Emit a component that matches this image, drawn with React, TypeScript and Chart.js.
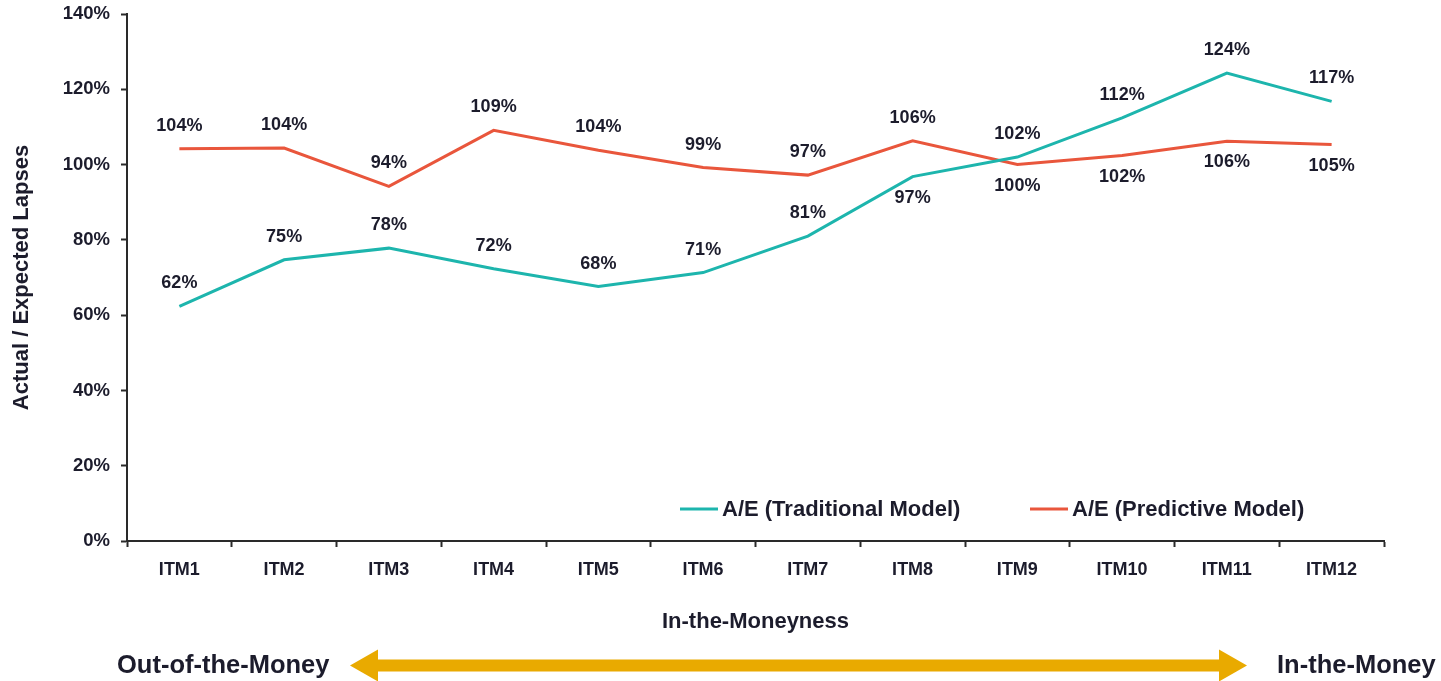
import React, { useEffect, useRef } from 'react';
import { Chart, registerables } from 'chart.js';

Chart.register(...registerables);

const categories = ['ITM1', 'ITM2', 'ITM3', 'ITM4', 'ITM5', 'ITM6', 'ITM7', 'ITM8', 'ITM9', 'ITM10', 'ITM11', 'ITM12'];
const traditional = [62.3, 74.7, 77.8, 72.3, 67.6, 71.3, 81.0, 96.8, 102.0, 112.4, 124.3, 116.8];
const predictive = [104.2, 104.4, 94.2, 109.1, 103.8, 99.2, 97.2, 106.3, 100.0, 102.4, 106.2, 105.3];
const traditionalLabelSide = ['above', 'above', 'above', 'above', 'above', 'above', 'above', 'below', 'above', 'above', 'above', 'above'];
const predictiveLabelSide = ['above', 'above', 'above', 'above', 'above', 'above', 'above', 'above', 'below', 'below', 'below', 'below'];
const seriesNames = ['A/E (Traditional Model)', 'A/E (Predictive Model)'];
const yMin = 0;
const yMax = 140;
const yStep = 20;
const xTitle = 'In-the-Moneyness';
const yTitle = 'Actual / Expected Lapses';
const leftCaption = 'Out-of-the-Money';
const rightCaption = 'In-the-Money';

const FONT = '"Liberation Sans", Arial, sans-serif';
const TEXT = '#1c1c2c';
const TEAL = '#1db5ad';
const RED = '#e9563c';
const GOLD = '#e9aa00';
const AXIS = '#2a2a2a';

const pointLabelPlugin = {
  id: 'pointLabels',
  afterDatasetsDraw(chart: any) {
    const ctx = chart.ctx;
    ctx.save();
    ctx.font = `bold 18px ${FONT}`;
    ctx.fillStyle = TEXT;
    ctx.textAlign = 'center';
    ctx.textBaseline = 'middle';
    chart.data.datasets.forEach((ds: any, di: number) => {
      const meta = chart.getDatasetMeta(di);
      meta.data.forEach((pt: any, i: number) => {
        const v = ds.data[i];
        const side = ds.labelSide[i];
        const y = side === 'above' ? pt.y - 23 : pt.y + 21;
        ctx.fillText(Math.round(v) + '%', pt.x, y);
      });
    });
    ctx.restore();
  },
};

const legendPlugin = {
  id: 'insideLegend',
  afterDraw(chart: any) {
    const ctx = chart.ctx;
    const area = chart.chartArea;
    const starts = [area.left + 553, area.left + 903];
    const y = area.bottom - 32;
    ctx.save();
    ctx.font = `bold 22px ${FONT}`;
    ctx.textAlign = 'left';
    ctx.textBaseline = 'middle';
    chart.data.datasets.forEach((ds: any, i: number) => {
      const x = starts[i];
      ctx.strokeStyle = ds.borderColor;
      ctx.lineWidth = 3;
      ctx.beginPath();
      ctx.moveTo(x, y);
      ctx.lineTo(x + 38, y);
      ctx.stroke();
      ctx.fillStyle = TEXT;
      ctx.fillText(ds.label, x + 42, y + 1);
    });
    ctx.restore();
  },
};

const arrowPlugin = {
  id: 'moneyArrow',
  afterDraw(chart: any) {
    const ctx = chart.ctx;
    const cy = 665.5;
    const leftTip = 350;
    const rightTip = 1247;
    const headLen = 28;
    const headHalf = 16;
    const shaftHalf = 6;
    ctx.save();
    ctx.fillStyle = GOLD;
    ctx.beginPath();
    ctx.moveTo(leftTip, cy);
    ctx.lineTo(leftTip + headLen, cy - headHalf);
    ctx.lineTo(leftTip + headLen, cy - shaftHalf);
    ctx.lineTo(rightTip - headLen, cy - shaftHalf);
    ctx.lineTo(rightTip - headLen, cy - headHalf);
    ctx.lineTo(rightTip, cy);
    ctx.lineTo(rightTip - headLen, cy + headHalf);
    ctx.lineTo(rightTip - headLen, cy + shaftHalf);
    ctx.lineTo(leftTip + headLen, cy + shaftHalf);
    ctx.lineTo(leftTip + headLen, cy + headHalf);
    ctx.closePath();
    ctx.fill();
    ctx.font = `bold 25.5px ${FONT}`;
    ctx.fillStyle = TEXT;
    ctx.textBaseline = 'middle';
    ctx.textAlign = 'left';
    ctx.fillText(leftCaption, 117, cy);
    ctx.fillText(rightCaption, 1277, cy);
    ctx.restore();
  },
};

export default function App() {
  const canvasRef = useRef<HTMLCanvasElement | null>(null);

  useEffect(() => {
    const canvas = canvasRef.current;
    if (!canvas) return;
    const chart = new Chart(canvas, {
      type: 'line',
      data: {
        labels: categories,
        datasets: [
          {
            label: seriesNames[0],
            data: traditional,
            borderColor: TEAL,
            backgroundColor: TEAL,
            borderWidth: 3,
            pointRadius: 0,
            tension: 0,
            labelSide: traditionalLabelSide,
          } as any,
          {
            label: seriesNames[1],
            data: predictive,
            borderColor: RED,
            backgroundColor: RED,
            borderWidth: 3,
            pointRadius: 0,
            tension: 0,
            labelSide: predictiveLabelSide,
          } as any,
        ],
      },
      options: {
        animation: false,
        responsive: false,
        layout: { padding: { top: 14, right: 57, left: 0, bottom: 0 } },
        plugins: {
          legend: { display: false },
          tooltip: { enabled: false },
        },
        scales: {
          x: {
            type: 'category',
            offset: true,
            afterFit: (scale: any) => {
              scale.height = 140;
              scale.paddingLeft = 0;
              scale.paddingRight = 0;
            },
            grid: {
              display: true,
              offset: true,
              drawOnChartArea: false,
              drawTicks: true,
              tickLength: 6,
              tickWidth: 2,
              color: AXIS,
            },
            border: { display: true, color: AXIS, width: 2 },
            ticks: {
              autoSkip: false,
              maxRotation: 0,
              padding: 12,
              color: TEXT,
              font: { family: FONT, size: 18, weight: 'bold' },
            },
            title: {
              display: true,
              text: xTitle,
              color: TEXT,
              font: { family: FONT, size: 22, weight: 'bold' },
              padding: { top: 0, bottom: 46 },
            },
          },
          y: {
            min: yMin,
            max: yMax,
            afterFit: (scale: any) => {
              scale.width = 127;
              scale.paddingTop = 0;
              scale.paddingBottom = 0;
            },
            grid: {
              display: true,
              drawOnChartArea: false,
              drawTicks: true,
              tickLength: 6,
              tickWidth: 2,
              color: AXIS,
            },
            border: { display: true, color: AXIS, width: 2 },
            ticks: {
              stepSize: yStep,
              padding: 11,
              color: TEXT,
              font: { family: FONT, size: 18.5, weight: 'bold' },
              callback: (v: any) => v + '%',
            },
            title: {
              display: true,
              text: yTitle,
              color: TEXT,
              font: { family: FONT, size: 22, weight: 'bold' },
              padding: { top: 9, bottom: 0 },
            },
          },
        },
      } as any,
      plugins: [pointLabelPlugin, legendPlugin, arrowPlugin],
    });
    return () => chart.destroy();
  }, []);

  return (
    <div style={{ position: 'fixed', left: 0, top: 0, width: 1441, height: 681, background: '#ffffff' }}>
      <canvas ref={canvasRef} width={1441} height={681} style={{ display: 'block' }} />
    </div>
  );
}
